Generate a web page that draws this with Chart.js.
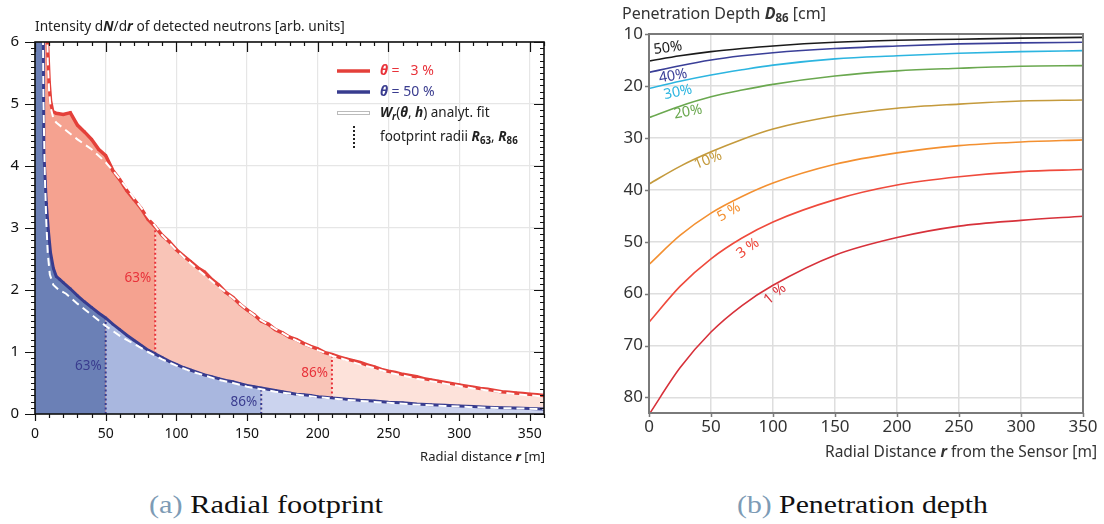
<!DOCTYPE html>
<html>
<head>
<meta charset="utf-8">
<script src="https://cdn.jsdelivr.net/npm/chart.js@4.4.0/dist/chart.umd.min.js"></script>
<style>
  body { margin: 0; background: #fff; width: 1104px; height: 524px; overflow: hidden; position: relative; }
  #left { position: absolute; left: 0; top: 0; }
  #right { position: absolute; left: 600px; top: 0; }
  .cap { position: absolute; top: 490px; font-family: "Liberation Serif", "DejaVu Serif", serif; font-size: 25px; line-height: 30px; color: #111; white-space: nowrap; transform-origin: 0 0; }
  .cap span { color: #7d9bb5; }
</style>
</head>
<body>
<canvas id="left" width="560" height="470"></canvas>
<canvas id="right" width="504" height="470"></canvas>
<div class="cap" id="capA" style="left:149px" data-w="234"><span>(a)</span> Radial footprint</div>
<div class="cap" id="capB" style="left:737px" data-w="251"><span>(b)</span> Penetration depth</div>
<script>
// ---- (a) radial footprint: intensity per radial bin ----
const rRed = [8, 9, 10, 11, 12.5, 15, 20, 25, 30, 35, 40, 45, 50, 55, 60, 65, 70, 75, 80, 85, 90, 95, 100,
  105, 110, 115, 120, 125, 130, 135, 140, 145, 150, 155, 160, 165, 170, 175, 180, 185, 190, 195, 200,
  205, 210, 215, 220, 225, 230, 235, 240, 245, 250, 255, 260, 265, 270, 275, 280, 285, 290, 295, 300,
  305, 310, 315, 320, 325, 330, 335, 340, 345, 350, 355, 360];
const nRed = [7.0, 5.9, 5.35, 5.05, 4.88, 4.85, 4.83, 4.86, 4.66, 4.55, 4.43, 4.27, 4.17, 3.93, 3.78, 3.60, 3.46, 3.32, 3.14, 3.02, 2.88, 2.78, 2.65,
  2.55, 2.46, 2.36, 2.29, 2.17, 2.08, 1.96, 1.88, 1.77, 1.68, 1.60, 1.50, 1.45, 1.36, 1.31, 1.24, 1.20, 1.14, 1.09, 1.05,
  0.99, 0.96, 0.92, 0.89, 0.86, 0.83, 0.79, 0.76, 0.72, 0.69, 0.67, 0.64, 0.62, 0.60, 0.57, 0.55, 0.53, 0.51, 0.49, 0.47,
  0.45, 0.43, 0.41, 0.40, 0.38, 0.36, 0.35, 0.34, 0.33, 0.32, 0.31, 0.30];

const rBlue = [5.6, 6.3, 8, 9.5, 11, 13, 15, 17.5, 20, 25, 30, 35, 40, 45, 50, 55, 60, 65, 70, 75, 80, 85, 90, 95, 100,
  105, 110, 115, 120, 125, 130, 135, 140, 145, 150, 155, 160, 165, 170, 175, 180, 185, 190, 195, 200,
  205, 210, 215, 220, 225, 230, 240, 250, 260, 270, 280, 290, 300, 310, 320, 330, 340, 350, 360];
const nBlue = [7.0, 4.2, 3.4, 2.95, 2.6, 2.35, 2.22, 2.17, 2.12, 2.02, 1.91, 1.81, 1.72, 1.63, 1.55, 1.45, 1.36, 1.27, 1.19, 1.11, 1.03, 0.97, 0.91, 0.85, 0.80,
  0.75, 0.71, 0.67, 0.63, 0.60, 0.57, 0.54, 0.52, 0.49, 0.46, 0.44, 0.42, 0.40, 0.38, 0.36, 0.34, 0.32, 0.31, 0.30, 0.28,
  0.27, 0.26, 0.25, 0.24, 0.23, 0.22, 0.21, 0.19, 0.18, 0.16, 0.15, 0.14, 0.13, 0.12, 0.11, 0.10, 0.095, 0.09, 0.08];

// analytical fits W_r(theta, h)
const rFitRed = [8.3, 9, 10, 11, 13, 15, 20, 30, 40, 50, 60, 70, 80, 90, 100, 110, 120, 130, 140, 150, 160, 170, 180,
  190, 200, 210, 220, 230, 240, 250, 260, 270, 280, 290, 300, 310, 320, 330, 340, 350, 360];
const fitRed = [6.8, 5.7, 5.2, 4.95, 4.77, 4.70, 4.61, 4.43, 4.27, 4.06, 3.79, 3.48, 3.18, 2.88, 2.64, 2.43, 2.24, 2.05, 1.87, 1.68, 1.51, 1.37, 1.24,
  1.13, 1.03, 0.94, 0.87, 0.80, 0.74, 0.67, 0.62, 0.57, 0.53, 0.49, 0.45, 0.41, 0.38, 0.35, 0.32, 0.30, 0.28];
const rFitBlue = [5.5, 6, 7, 8, 9, 10.5, 13, 17, 22, 30, 40, 50, 60, 70, 80, 90, 100, 110, 120, 130, 140, 150, 160,
  170, 180, 190, 200, 210, 220, 230, 240, 250, 260, 270, 280, 290, 300, 310, 320, 330, 340, 350, 360];
const fitBlue = [6.5, 5.0, 3.8, 3.1, 2.6, 2.25, 2.08, 2.0, 1.94, 1.78, 1.60, 1.42, 1.26, 1.13, 1.00, 0.88, 0.78, 0.69, 0.62, 0.55, 0.50, 0.44, 0.40,
  0.36, 0.33, 0.30, 0.27, 0.25, 0.23, 0.21, 0.195, 0.18, 0.165, 0.15, 0.14, 0.13, 0.12, 0.11, 0.10, 0.095, 0.09, 0.085, 0.08];

// footprint radii R63, R86 [m]
const radiiRed = [85, 210];
const radiiBlue = [50, 160];
const radiiNames = ['63%', '86%'];

// ---- (b) penetration depth D86 [cm] ----
const rDepth = [0, 25, 50, 75, 100, 150, 200, 250, 300, 350];
const d50 = [15.2, 14.2, 13.4, 12.8, 12.3, 11.6, 11.2, 11.0, 10.8, 10.65];
const d40 = [17.4, 16.1, 15.0, 14.2, 13.6, 12.8, 12.3, 11.9, 11.7, 11.6];
const d30 = [20.5, 19.1, 17.9, 16.9, 16.0, 14.8, 14.2, 13.7, 13.4, 13.2];
const d20 = [26.1, 23.9, 22.1, 20.8, 19.7, 18.1, 17.1, 16.6, 16.2, 16.1];
const d10 = [38.9, 35.5, 32.7, 30.3, 28.3, 25.8, 24.3, 23.5, 22.9, 22.7];
const d5 = [54.4, 48.8, 44.5, 41.3, 38.7, 35.1, 32.9, 31.5, 30.8, 30.4];
const d3 = [65.5, 58.6, 53.3, 49.3, 46.2, 41.9, 39.1, 37.5, 36.5, 36.1];
const d1 = [83.3, 74.3, 67.4, 62.3, 58.4, 52.6, 49.2, 47.0, 45.9, 45.1];
const depthNames = ['50%', '40%', '30%', '20%', '10%', '5 %', '3 %', '1 %'];

const SANS = '"Noto Sans", sans-serif';
Chart.defaults.font.family = SANS;

function pts(rs, vs) { return rs.map((r, i) => ({ x: r, y: vs[i] })); }
function part(p, a, b) { return p.filter(q => q.x >= a && q.x <= b); }
function at(rs, vs, r) { return vs[rs.indexOf(r)]; }

function segFont(f, size) {
  const sz = f.includes('s') ? size * 0.72 : size;
  return (f.includes('i') ? 'italic ' : '') + (f.includes('b') ? 'bold ' : '') + sz + 'px ' + SANS;
}
// draw text made of styled pieces: [text, flags(b,i,s)]
function rich(ctx, x, y, segs, size, color, align) {
  ctx.save();
  ctx.textBaseline = 'middle';
  ctx.textAlign = 'left';
  let w = 0;
  segs.forEach(s => { ctx.font = segFont(s[1] || '', size); w += ctx.measureText(s[0]).width; });
  let cx = align === 'right' ? x - w : align === 'center' ? x - w / 2 : x;
  segs.forEach(s => {
    const f = s[1] || '';
    ctx.font = segFont(f, size);
    ctx.fillStyle = color;
    ctx.fillText(s[0], cx, y + (f.includes('s') ? size * 0.3 : 0));
    cx += ctx.measureText(s[0]).width;
  });
  ctx.restore();
}

const RED = '#e4403a', BLUE = '#383c8f';
const redPts = pts(rRed, nRed), bluePts = pts(rBlue, nBlue);

function fillSet(data, color) {
  return { data: data, fill: 'origin', backgroundColor: color, borderColor: 'rgba(0,0,0,0)', borderWidth: 0, pointRadius: 0 };
}
function dotSet(r, lo, hi, color) {
  return { data: [{ x: r, y: lo }, { x: r, y: hi }], borderColor: color, borderWidth: 2, borderDash: [2, 2.5], pointRadius: 0, fill: false };
}

const leftAxes = {
  id: 'leftAxes',
  afterDraw(chart) {
    const { ctx, chartArea: a, scales: { x, y } } = chart;
    ctx.save();
    ctx.strokeStyle = '#111';
    ctx.lineWidth = 1.2;
    ctx.beginPath();
    for (let r = 0; r <= 360; r += 10) {
      const px = Math.round(x.getPixelForValue(r)) + 0.5, major = r % 50 === 0;
      ctx.moveTo(px, a.bottom); ctx.lineTo(px, a.bottom + (major ? 7 : 4));
      ctx.moveTo(px, a.top); ctx.lineTo(px, a.top + (major ? 10 : 4));
    }
    for (let i = 0; i <= 60; i++) {
      const py = Math.round(y.getPixelForValue(i / 10)) + 0.5, major = i % 10 === 0;
      ctx.moveTo(a.left, py); ctx.lineTo(a.left - (major ? 10 : 4), py);
      ctx.moveTo(a.right, py); ctx.lineTo(a.right - (major ? 10 : 4), py);
    }
    ctx.stroke();
    ctx.lineWidth = 1.6;
    ctx.strokeRect(a.left, a.top, a.right - a.left, a.bottom - a.top);

    // region labels
    ctx.font = '13.5px ' + SANS;
    ctx.textAlign = 'right';
    ctx.textBaseline = 'middle';
    ctx.fillStyle = '#e8323a';
    ctx.fillText(radiiNames[0], x.getPixelForValue(radiiRed[0]) - 4, y.getPixelForValue(2.19));
    ctx.fillText(radiiNames[1], x.getPixelForValue(radiiRed[1]) - 4, y.getPixelForValue(0.66));
    ctx.fillStyle = '#3a3c8f';
    ctx.fillText(radiiNames[0], x.getPixelForValue(radiiBlue[0]) - 4, y.getPixelForValue(0.77));
    ctx.fillText(radiiNames[1], x.getPixelForValue(radiiBlue[1]) - 4, y.getPixelForValue(0.19));

    // legend
    ctx.lineWidth = 3.5;
    ctx.strokeStyle = RED;
    ctx.beginPath(); ctx.moveTo(337, 71); ctx.lineTo(370, 71); ctx.stroke();
    ctx.strokeStyle = BLUE;
    ctx.beginPath(); ctx.moveTo(337, 92); ctx.lineTo(370, 92); ctx.stroke();
    ctx.strokeStyle = '#bbbbbb'; ctx.lineWidth = 4;
    ctx.beginPath(); ctx.moveTo(337, 113); ctx.lineTo(370, 113); ctx.stroke();
    ctx.strokeStyle = '#ffffff'; ctx.lineWidth = 2;
    ctx.beginPath(); ctx.moveTo(338, 113); ctx.lineTo(369, 113); ctx.stroke();
    ctx.strokeStyle = '#222'; ctx.lineWidth = 2; ctx.setLineDash([2, 2]);
    ctx.beginPath(); ctx.moveTo(354, 126); ctx.lineTo(354, 148); ctx.stroke();
    ctx.setLineDash([]);
    ctx.restore();

    rich(ctx, 380, 71, [['θ', 'bi'], [' =   3 %']], 14, '#e8323a');
    rich(ctx, 380, 92, [['θ', 'bi'], [' = 50 %']], 14, '#3a3c8f');
    rich(ctx, 380, 113, [['W', 'bi'], ['r', 'bis'], ['('], ['θ', 'bi'], [', '], ['h', 'bi'], [') analyt. fit']], 13.5, '#222');
    rich(ctx, 380, 137, [['footprint radii '], ['R', 'bi'], ['63', 'bs'], [', '], ['R', 'bi'], ['86', 'bs']], 13.5, '#222');

    // axis titles
    rich(ctx, 35, 27, [['Intensity d'], ['N', 'bi'], ['/d'], ['r', 'bi'], [' of detected neutrons [arb. units]']], 13.7, '#222');
    rich(ctx, 545, 457, [['Radial distance '], ['r', 'bi'], [' [m]']], 13, '#222', 'right');
  }
};

new Chart(document.getElementById('left'), {
  type: 'line',
  data: {
    datasets: [
      { data: pts(rFitRed, fitRed), borderColor: '#ffffff', borderWidth: 2, borderDash: [8, 5], pointRadius: 0, fill: false },
      { data: pts(rFitBlue, fitBlue), borderColor: '#ffffff', borderWidth: 2, borderDash: [8, 5], pointRadius: 0, fill: false },
      { data: redPts, borderColor: RED, borderWidth: 3.5, pointStyle: 'rect', pointRadius: 1.8, pointBackgroundColor: RED, pointBorderWidth: 0, fill: false },
      { data: bluePts, borderColor: BLUE, borderWidth: 3, pointStyle: 'rect', pointRadius: 1.6, pointBackgroundColor: BLUE, pointBorderWidth: 0, fill: false },
      dotSet(radiiRed[0], at(rBlue, nBlue, radiiRed[0]), at(rRed, nRed, radiiRed[0]), '#e8323a'),
      dotSet(radiiRed[1], at(rBlue, nBlue, radiiRed[1]), at(rRed, nRed, radiiRed[1]), '#e8323a'),
      dotSet(radiiBlue[0], 0, at(rBlue, nBlue, radiiBlue[0]), '#3a3c8f'),
      dotSet(radiiBlue[1], 0, at(rBlue, nBlue, radiiBlue[1]), '#3a3c8f'),
      fillSet([{ x: 0, y: nBlue[0] }].concat(part(bluePts, 0, radiiBlue[0])), '#6b80b6'),
      fillSet(part(bluePts, radiiBlue[0], radiiBlue[1]), '#a9b7df'),
      fillSet(part(bluePts, radiiBlue[1], 360), '#cbd3ee'),
      fillSet([{ x: 0, y: nRed[0] }].concat(part(redPts, 0, radiiRed[0])), '#f5a290'),
      fillSet(part(redPts, radiiRed[0], radiiRed[1]), '#f9c4b7'),
      fillSet(part(redPts, radiiRed[1], 360), '#fde2da')
    ]
  },
  options: {
    responsive: false,
    animation: false,
    devicePixelRatio: 1,
    layout: { padding: { top: 42, right: 16, left: 0, bottom: 0 } },
    plugins: { legend: { display: false }, tooltip: { enabled: false } },
    scales: {
      x: {
        type: 'linear', min: 0, max: 360,
        afterFit: s => { s.height = 56; },
        grid: { color: '#e6e6e6', lineWidth: 1.2, drawTicks: false },
        border: { display: false },
        ticks: { stepSize: 50, includeBounds: false, padding: 12, color: '#111', font: { size: 14 }, maxRotation: 0 }
      },
      y: {
        min: 0, max: 6,
        afterFit: s => { s.width = 35; },
        grid: { color: '#e6e6e6', lineWidth: 1.2, drawTicks: false },
        border: { display: false },
        ticks: { stepSize: 1, includeBounds: false, padding: 16, color: '#111', font: { size: 15 } }
      }
    }
  },
  plugins: [leftAxes]
});

// ---- (b) ----
const depthColors = ['#1a1a1a', '#3a3f98', '#2cb5e0', '#6aa84f', '#c49a3c', '#f39031', '#ef4a3c', '#d7313a'];
const depthSeries = [d50, d40, d30, d20, d10, d5, d3, d1];
// label anchor (r, depth) and rotation in degrees
const labelPos = [[15.3, 12.7, -8], [19.4, 18.1, -10], [23.4, 21.2, -12], [31.5, 25.0, -10],
  [47.6, 34.3, -22], [64.5, 44.3, -30], [79.8, 51.3, -35], [101.6, 60.1, -40]];

const rightAxes = {
  id: 'rightAxes',
  afterDraw(chart) {
    const { ctx, chartArea: a, scales: { x, y } } = chart;
    ctx.save();
    ctx.strokeStyle = '#7a7a7a';
    ctx.lineWidth = 1.5;
    ctx.beginPath();
    for (let r = 0; r <= 350; r += 50) {
      const px = Math.round(x.getPixelForValue(r)) + 0.5;
      ctx.moveTo(px, a.bottom); ctx.lineTo(px, a.bottom + 4);
    }
    for (let d = 10; d <= 80; d += 10) {
      const py = Math.round(y.getPixelForValue(d)) + 0.5;
      ctx.moveTo(a.left, py); ctx.lineTo(a.left - 4, py);
    }
    ctx.stroke();
    ctx.lineWidth = 2;
    ctx.strokeRect(a.left, a.top, a.right - a.left, a.bottom - a.top);

    ctx.font = '14.5px ' + SANS;
    ctx.textAlign = 'center';
    ctx.textBaseline = 'middle';
    labelPos.forEach((p, i) => {
      ctx.save();
      ctx.translate(x.getPixelForValue(p[0]), y.getPixelForValue(p[1]));
      ctx.rotate(p[2] * Math.PI / 180);
      ctx.fillStyle = depthColors[i];
      ctx.fillText(depthNames[i], 0, 0);
      ctx.restore();
    });
    ctx.restore();

    rich(ctx, 22, 14, [['Penetration Depth '], ['D', 'bi'], ['86', 'bs'], [' [cm]']], 16, '#333');
    rich(ctx, 497, 453, [['Radial Distance '], ['r', 'bi'], [' from the Sensor [m]']], 15.5, '#333', 'right');
  }
};

new Chart(document.getElementById('right'), {
  type: 'line',
  data: {
    datasets: depthSeries.map((s, i) => ({
      data: pts(rDepth, s), borderColor: depthColors[i], borderWidth: 1.6, pointRadius: 0,
      cubicInterpolationMode: 'monotone', fill: false
    }))
  },
  options: {
    responsive: false,
    animation: false,
    devicePixelRatio: 1,
    layout: { padding: { top: 34, right: 21, left: 0, bottom: 0 } },
    plugins: { legend: { display: false }, tooltip: { enabled: false } },
    scales: {
      x: {
        type: 'linear', min: 0, max: 350,
        afterFit: s => { s.height = 57; },
        grid: { color: '#dedede', lineWidth: 1.5, drawTicks: false },
        border: { display: false },
        ticks: { stepSize: 50, includeBounds: false, padding: 4, color: '#333', font: { size: 17 }, maxRotation: 0 }
      },
      y: {
        min: 10, max: 83, reverse: true,
        afterFit: s => { s.width = 49; },
        grid: { color: '#dedede', lineWidth: 1.5, drawTicks: false },
        border: { display: false },
        ticks: { stepSize: 10, includeBounds: false, padding: 6, color: '#333', font: { size: 17 } }
      }
    }
  },
  plugins: [rightAxes]
});

// stretch the serif captions to the width they have in the figure
document.querySelectorAll('.cap').forEach(el => {
  const w = el.getBoundingClientRect().width;
  el.style.transform = 'scaleX(' + (Number(el.dataset.w) / w) + ')';
});
</script>
</body>
</html>
